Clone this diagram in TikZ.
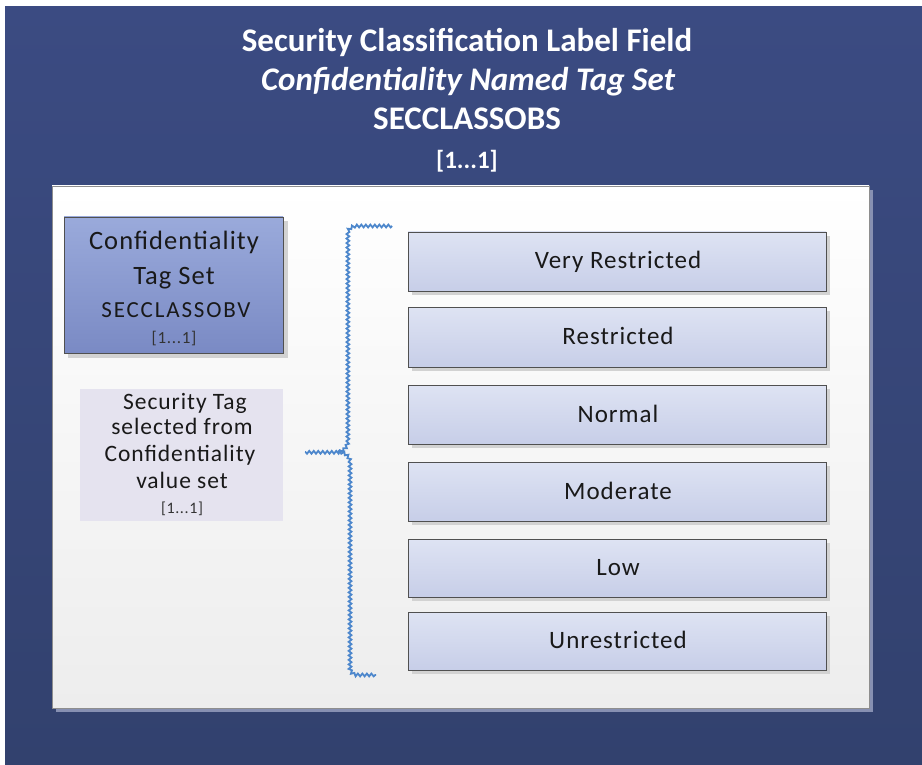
\documentclass[tikz,border=0pt]{standalone}
\usepackage{fontspec}
\setmainfont{Carlito}
\newfontfamily\spaced[LetterSpace=4]{Carlito}
\newfontfamily\wide[LetterSpace=8]{Carlito}
\usetikzlibrary{decorations.pathmorphing,shadows}

\definecolor{navytop}{HTML}{3B4B82}
\definecolor{navybot}{HTML}{32416E}
\definecolor{panelbot}{HTML}{EDEDED}
\definecolor{panelline}{HTML}{8E8E8E}
\definecolor{panelshadow}{HTML}{8790B2}
\definecolor{tagtop}{HTML}{9AAADB}
\definecolor{tagbot}{HTML}{7A8AC4}
\definecolor{valtop}{HTML}{DEE3F3}
\definecolor{valbot}{HTML}{C7CEE8}
\definecolor{boxline}{HTML}{505050}
\definecolor{secfill}{HTML}{E5E3EF}
\definecolor{bracecol}{HTML}{4D87CC}
\definecolor{softshadow}{HTML}{D2D2D2}

\tikzset{
  titletext/.style={text=white, font=\fontsize{33}{38}\selectfont\bfseries, anchor=base, inner sep=0pt},
  valbox/.style={draw=boxline, line width=0.8pt, top color=valtop, bottom color=valbot,
    minimum width=418pt, inner sep=0pt},
  valtext/.style={font=\fontsize{25}{29}\selectfont\spaced, anchor=base, inner sep=0pt, text=black!90},
  tagtext/.style={font=\fontsize{26.5}{30}\selectfont\spaced, anchor=base, inner sep=0pt, text=black!90},
  smalltext/.style={font=\fontsize{23}{26}\selectfont\wide, anchor=base, inner sep=0pt, text=black!90},
  tinytext/.style={font=\fontsize{17}{20}\selectfont\spaced, anchor=base, inner sep=0pt, text=black!80},
  sectext/.style={font=\fontsize{23.5}{27}\selectfont\spaced, anchor=base, inner sep=0pt, text=black!90},
  bracepath/.style={draw=bracecol, line width=1.8pt,
    decorate, decoration={snake, segment length=4.5pt, amplitude=1.4pt}},
}

\begin{document}
\begin{tikzpicture}[x=1pt,y=-1pt]
\useasboundingbox (0,0) rectangle (922,765);
\fill[white] (0,0) rectangle (922,765);

% outer dark frame
\shade[top color=navytop, bottom color=navybot] (5,7) rectangle (922,765);

% heading
\node[titletext] (t1) at (467,52) {Security Classification Label Field};
\node[titletext, font=\fontsize{33}{38}\selectfont\bfseries\itshape] (t2) at (468,91) {Confidentiality Named Tag Set};
\node[titletext] (t3) at (467,130) {SECCLASSOBS};
\node[titletext, font=\fontsize{25}{30}\selectfont\bfseries] (t4) at (467,169) {[1...1]};

% white panel with its shadow
\fill[panelshadow] (56,190) rectangle (873,712);
\shade[top color=white, bottom color=panelbot, draw=panelline, line width=0.8pt] (52,186) rectangle (869,708);

% tag set box
\fill[softshadow] (68,221) rectangle (288,358);
\node[draw=boxline, line width=0.8pt, top color=tagtop, bottom color=tagbot,
      minimum width=219pt, minimum height=136pt, inner sep=0pt] (tagset) at (173.5,285) {};
\node[tagtext] (ts1) at (174,249) {Confidentiality};
\node[tagtext] (ts2) at (174,284) {Tag Set};
\node[smalltext] (ts3) at (176,317) {SECCLASSOBV};
\node[tinytext] (ts4) at (174,343) {[1...1]};

% selection note
\node[fill=secfill, minimum width=203pt, minimum height=132pt, inner sep=0pt] (sel) at (181.5,455) {};
\node[sectext] (s1) at (185,409) {Security Tag};
\node[sectext] (s2) at (182,434) {selected from};
\node[sectext] (s3) at (180,461) {Confidentiality};
\node[sectext] (s4) at (182,488) {value set};
\node[tinytext, font=\fontsize{16}{20}\selectfont\spaced] (s5) at (182,513) {[1...1]};

% value boxes
\foreach \name/\txt/\cy/\h in {v1/Very Restricted/261.5/59, v2/Restricted/337/60, v3/Normal/414.5/59,
                             v4/Moderate/491.5/59, v5/Low/568/58, v6/Unrestricted/641/58}{
  \fill[softshadow] (412,\cy-\h/2+4) rectangle (830,\cy+\h/2+4);
  \node[valbox, minimum height=\h pt] (\name) at (617,\cy) {};
  \node[valtext] (\name t) at (618,\cy+7.5) {\txt};
}

% brace grouping the values
\coordinate (bt) at (392,226);
\coordinate (bm) at (305,452);
\coordinate (bb) at (376,675);
\draw[bracepath] (bt) -- (358,226) to[out=180,in=90] (349,233) -- (349,440)
   to[out=-90,in=0] (338,452) -- (bm);
\draw[bracepath] (338,452) to[out=0,in=90] (349,463) -- (349,668)
   to[out=-90,in=180] (356,675) -- (bb);
\end{tikzpicture}
\end{document}
